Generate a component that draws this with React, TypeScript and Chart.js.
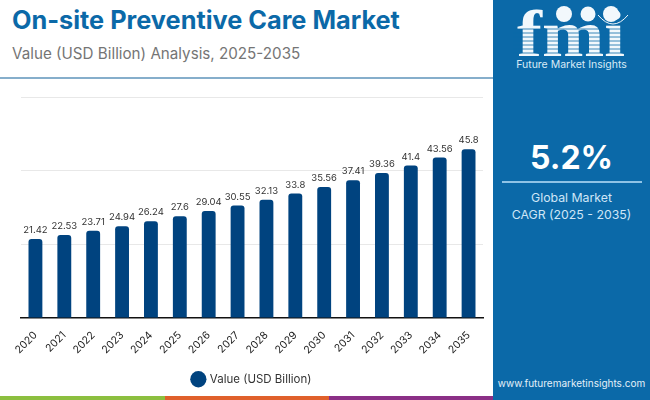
import { useEffect, useRef } from 'react'
import { Chart, registerables } from 'chart.js'

Chart.register(...registerables)

const years = ['2020', '2021', '2022', '2023', '2024', '2025', '2026', '2027', '2028', '2029', '2030', '2031', '2032', '2033', '2034', '2035']
const values = [21.42, 22.53, 23.71, 24.94, 26.24, 27.6, 29.04, 30.55, 32.13, 33.8, 35.56, 37.41, 39.36, 41.4, 43.56, 45.8]
const seriesName = 'Value (USD Billion)'
const uiFont = 'Inter, "Open Sans", sans-serif'
const panelBlue = '#0b69a8'
const logoStripes = [29, 33, 37, 41, 45, 49, 53]

// Write each value above its bar
const barValueLabels = {
  id: 'barValueLabels',
  afterDatasetsDraw(chart: Chart) {
    const { ctx } = chart
    const meta = chart.getDatasetMeta(0)
    ctx.save()
    ctx.font = `9.5px ${uiFont}`
    ctx.fillStyle = '#333333'
    ctx.textAlign = 'center'
    ctx.textBaseline = 'bottom'
    meta.data.forEach((bar, i) => {
      ctx.fillText(String(values[i]), bar.x, bar.y - 4)
    })
    ctx.restore()
  },
}

export default function App() {
  const chartRef = useRef<HTMLCanvasElement>(null)

  useEffect(() => {
    document.body.style.margin = '0'
    if (!chartRef.current) return
    const chart = new Chart(chartRef.current, {
      type: 'bar',
      data: {
        labels: years,
        datasets: [{
          label: seriesName,
          data: values,
          backgroundColor: '#00437f',
          borderRadius: { topLeft: 3, topRight: 3 },
          borderSkipped: 'bottom',
          categoryPercentage: 1,
          barPercentage: 0.48,
        }],
      },
      options: {
        responsive: false,
        animation: false,
        layout: { padding: { top: 97, left: 21, right: 10, bottom: 1 } },
        scales: {
          x: {
            grid: { display: false },
            border: { color: '#111111', width: 1.5 },
            ticks: {
              maxRotation: 45,
              minRotation: 45,
              autoSkip: false,
              color: '#222222',
              padding: 3,
              font: { family: uiFont, size: 10.5 },
            },
          },
          y: {
            min: 0,
            max: 60,
            ticks: { display: false, stepSize: 20 },
            grid: { color: '#e8e8e8', drawTicks: false },
            border: { display: false },
          },
        },
        plugins: {
          legend: {
            position: 'bottom',
            labels: {
              usePointStyle: true,
              pointStyle: 'circle',
              boxWidth: 16,
              boxHeight: 11.5,
              color: '#333333',
              padding: 14,
              font: { family: uiFont, size: 11.5 },
            },
          },
          tooltip: { enabled: false },
        },
      },
      plugins: [barValueLabels],
    })
    return () => chart.destroy()
  }, [])

  return (
    <div style={{ position: 'relative', width: 650, height: 400, overflow: 'hidden', background: '#fff', fontFamily: uiFont }}>
      <div style={{ position: 'absolute', left: 12, top: 4, fontSize: 25.3, fontWeight: 700, color: panelBlue, whiteSpace: 'nowrap' }}>
        On-site Preventive Care Market
      </div>
      <div style={{ position: 'absolute', left: 12, top: 44, fontSize: 15.2, color: '#757575', whiteSpace: 'nowrap' }}>
        Value (USD Billion) Analysis, 2025-2035
      </div>
      <div style={{ position: 'absolute', left: 0, top: 77, width: 493, height: 1.5, background: '#86aecb' }} />
      <canvas ref={chartRef} width={493} height={396} style={{ position: 'absolute', left: 0, top: 0 }} />

      {/* bottom colour strip */}
      <div style={{ position: 'absolute', left: 0, top: 396, width: 165, height: 4, background: '#8cbf3f' }} />
      <div style={{ position: 'absolute', left: 165, top: 396, width: 164, height: 4, background: '#e0602b' }} />
      <div style={{ position: 'absolute', left: 329, top: 396, width: 164, height: 4, background: '#8b2f86' }} />

      {/* right panel */}
      <div style={{ position: 'absolute', left: 493, top: 0, width: 157, height: 400, background: panelBlue, color: '#fff', textAlign: 'center' }}>
        <svg width={157} height={72} style={{ position: 'absolute', left: 0, top: 0 }}>
          <text x={78} y={56} textAnchor="middle" fontFamily="Liberation Serif" fontWeight={700} fontSize={66} fill="#f2f8fc" textLength={108} lengthAdjust="spacingAndGlyphs">fmi</text>
          {logoStripes.map(y => (
            <line key={y} x1={20} y1={y} x2={136} y2={y} stroke={panelBlue} strokeWidth={0.8} />
          ))}
          <circle cx={71} cy={14} r={8} fill="#f2f8fc" />
          <circle cx={95} cy={14} r={7.5} fill="#f2f8fc" />
          <circle cx={118} cy={14} r={8} fill="#f2f8fc" />
          <path d="M 105 15 Q 120 33 135 15" fill="none" stroke="#f2f8fc" strokeWidth={1} />
        </svg>
        <div style={{ position: 'absolute', left: 0, width: 157, top: 58, fontSize: 10.5, color: '#d8ebf7' }}>Future Market Insights</div>
        <div style={{ position: 'absolute', left: 0, width: 157, top: 134, fontSize: 32, fontWeight: 700, lineHeight: '48px' }}>5.2%</div>
        <div style={{ position: 'absolute', left: 9, top: 181, width: 140, height: 1.5, background: '#8fc3e6' }} />
        <div style={{ position: 'absolute', left: 0, width: 157, top: 189, fontSize: 12.3, lineHeight: '17px', color: '#cfe6f7' }}>
          Global Market<br />CAGR (2025 - 2035)
        </div>
        <div style={{ position: 'absolute', left: 0, width: 157, top: 377, fontSize: 10, color: '#e3f0f9' }}>www.futuremarketinsights.com</div>
      </div>
    </div>
  )
}
